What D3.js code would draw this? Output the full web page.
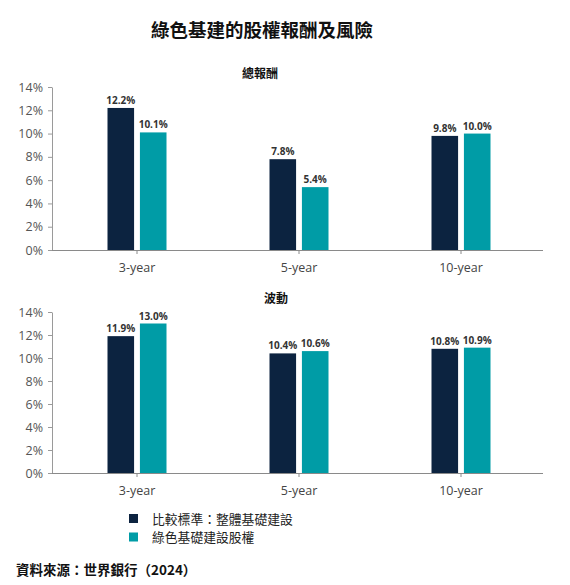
<!DOCTYPE html>
<html><head><meta charset="utf-8">
<script src="https://cdn.jsdelivr.net/npm/d3@7"></script>
<style>
body{margin:0;background:#fff;}
svg{display:block;}
</style></head>
<body>
<script>
const title = "綠色基建的股權報酬及風險";
const categories = ["3-year","5-year","10-year"];
const seriesNames = ["比較標準：整體基礎建設","綠色基礎建設股權"];
const seriesColors = ["#0c2340","#009ca6"];
const returnTitle = "總報酬";
const returnBenchmark = [12.2, 7.8, 9.8];
const returnGreen = [10.1, 5.4, 10.0];
const volTitle = "波動";
const volBenchmark = [11.9, 10.4, 10.8];
const volGreen = [13.0, 10.6, 10.9];
const yTicks = [0,2,4,6,8,10,12,14];
const sourceText = "資料來源：世界銀行（2024）";

const W = 570, H = 585;
const latin = "'Open Sans','Noto Sans',sans-serif";
const cjk = "'Noto Sans CJK TC','Noto Sans',sans-serif";

const svg = d3.select("body").append("svg").attr("width", W).attr("height", H);

svg.append("text").attr("x", 262).attr("y", 37).attr("text-anchor","middle")
  .attr("font-family", cjk).attr("font-weight", 700).attr("font-size", 18.5).attr("fill","#111")
  .text(title);

function drawPanel(top, bottom, sub, subX, a, b) {
  const x0 = d3.scaleBand().domain(categories).range([56, 542]).padding(0);
  const x1 = d3.scaleBand().domain([0,1]).range([0, 59]).paddingInner(0.18);
  const y = d3.scaleLinear().domain([0, 14]).range([bottom, top]);
  const g = svg.append("g");

  g.append("text").attr("x", subX).attr("y", top - 9).attr("text-anchor","middle")
    .attr("font-family", cjk).attr("font-weight", 700).attr("font-size", 12).attr("fill","#111")
    .text(sub);

  const yAxis = g.append("g").attr("transform", "translate(52,0)")
    .call(d3.axisLeft(y).tickValues(yTicks).tickFormat(d => d + "%").tickSize(4).tickSizeOuter(0));
  yAxis.select(".domain").attr("stroke", "#9a9a9a");
  yAxis.selectAll(".tick line").attr("stroke", "#9a9a9a");
  yAxis.selectAll("text").attr("font-family", latin).attr("font-size", 12.5).attr("fill", "#555").attr("x", -9);

  const xAxis = g.append("g").attr("transform", `translate(0,${bottom})`)
    .call(d3.axisBottom(x0).tickSize(4).tickSizeOuter(0));
  xAxis.select(".domain").attr("stroke", "#8a8a8a").attr("d", `M52,0.5H543`);
  xAxis.selectAll(".tick line").attr("stroke", "#8a8a8a");
  xAxis.selectAll("text").attr("font-family", latin).attr("font-size", 12.5).attr("fill", "#444").attr("dy", "1.2em");

  const rows = categories.map((c, i) => ({c, vals: [a[i], b[i]]}));
  const grp = g.selectAll("g.grp").data(rows).enter().append("g")
    .attr("transform", d => `translate(${x0(d.c) + x0.bandwidth()/2 - 29.5},0)`);
  grp.selectAll("rect").data(d => d.vals.map((v, k) => ({v, k}))).enter().append("rect")
    .attr("x", d => x1(d.k)).attr("width", x1.bandwidth())
    .attr("y", d => y(d.v)).attr("height", d => bottom - y(d.v))
    .attr("fill", d => seriesColors[d.k]);
  grp.selectAll("text").data(d => d.vals.map((v, k) => ({v, k}))).enter().append("text")
    .attr("x", d => x1(d.k) + x1.bandwidth()/2).attr("y", d => y(d.v) - 4)
    .attr("text-anchor", "middle").attr("font-family", latin).attr("font-weight", 700)
    .attr("font-size", 10).attr("fill", "#333").text(d => d.v.toFixed(1) + "%");
}

drawPanel(87, 250, returnTitle, 260, returnBenchmark, returnGreen);
drawPanel(312, 473, volTitle, 276, volBenchmark, volGreen);

const leg = svg.append("g");
seriesNames.forEach((n, i) => {
  const yy = 519 + i * 18.5;
  leg.append("rect").attr("x", 129).attr("y", yy - 5).attr("width", 9).attr("height", 9).attr("fill", seriesColors[i]);
  leg.append("text").attr("x", 152).attr("y", yy + 4.5).attr("font-family", cjk).attr("font-size", 12.8)
    .attr("fill", "#222").text(n);
});

svg.append("text").attr("x", 16).attr("y", 575).attr("font-family", cjk).attr("font-weight", 700)
  .attr("font-size", 13.5).attr("fill", "#111").text(sourceText);
</script>
</body></html>
